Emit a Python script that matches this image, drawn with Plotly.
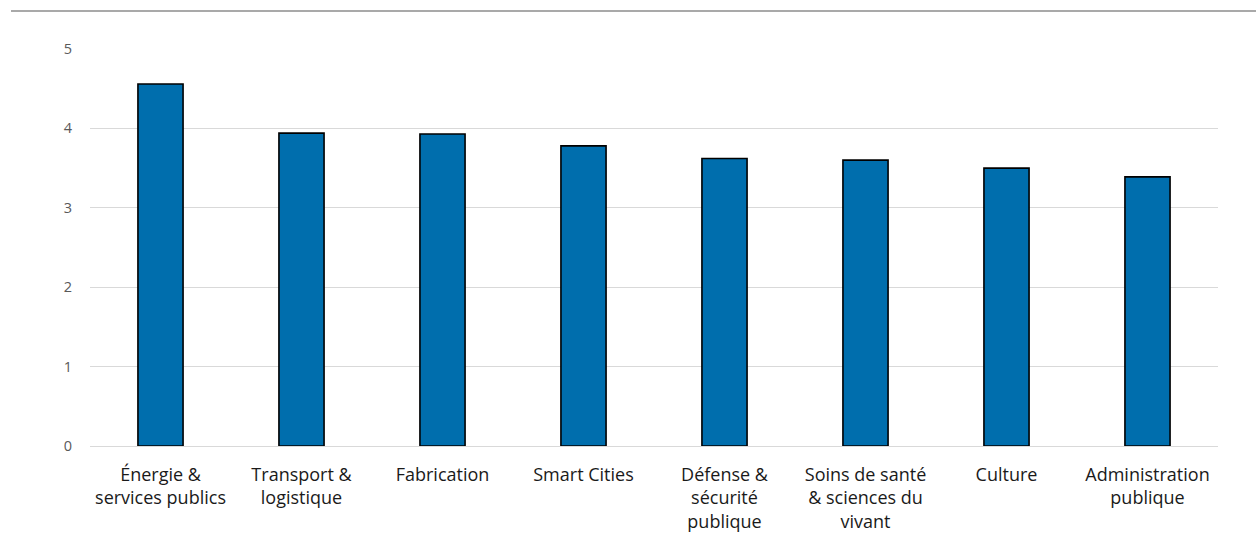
import plotly.graph_objects as go

categories = ["Énergie &<br>services publics", "Transport &<br>logistique", "Fabrication",
              "Smart Cities", "Défense &<br>sécurité<br>publique",
              "Soins de santé<br>& sciences du<br>vivant", "Culture", "Administration<br>publique"]
values = [4.56, 3.94, 3.93, 3.78, 3.62, 3.60, 3.50, 3.39]
y_ticks = [0, 1, 2, 3, 4, 5]

fig = go.Figure(go.Bar(
    x=categories, y=values,
    marker=dict(color="#006EAD", line=dict(color="#000000", width=1.6)),
    width=0.32,
))

fig.update_layout(
    width=1256, height=553,
    margin=dict(l=90, r=38, t=49, b=107),
    plot_bgcolor="white", paper_bgcolor="white",
    showlegend=False,
    font=dict(family="Open Sans, Lato, sans-serif"),
    shapes=[dict(type="line", xref="paper", yref="paper",
                 x0=(11 - 90) / 1128, x1=(1256 - 90) / 1128,
                 y0=1 + (49 - 11) / 397, y1=1 + (49 - 11) / 397,
                 line=dict(color="#8c8c8c", width=1.5))],
)
fig.update_yaxes(range=[0, 5], tickvals=y_ticks, showgrid=True, gridcolor="#d9d9d9",
                 gridwidth=1.3, zeroline=False, showline=False,
                 tickfont=dict(size=14.5, color="#595959"),
                 ticks="outside", ticklen=14, tickcolor="rgba(0,0,0,0)")
fig.update_xaxes(showgrid=False, showline=True, linecolor="#d9d9d9", linewidth=1.3,
                 tickfont=dict(size=18, color="#1a1a1a"),
                 ticks="outside", ticklen=12, tickcolor="rgba(0,0,0,0)")

fig.write_html("out.html")
